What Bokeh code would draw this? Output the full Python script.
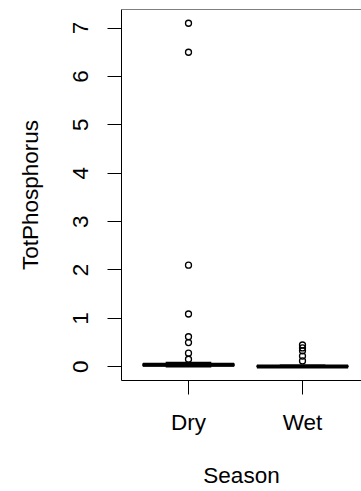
from bokeh.plotting import figure
from bokeh.models import FixedTicker, Range1d, Span, ColumnDataSource
from bokeh.embed import file_html
from bokeh.resources import INLINE

# ---- data ----
seasons = ["Dry", "Wet"]
positions = [1, 2]
box_min = [0.0, 0.0]
box_q1 = [0.02, 0.0]
box_median = [0.04, 0.005]
box_q3 = [0.06, 0.02]
box_max = [0.09, 0.035]
dry_outliers = [7.1, 6.5, 2.1, 1.09, 0.62, 0.5, 0.28, 0.155]
wet_outliers = [0.45, 0.39, 0.33, 0.22, 0.12]
y_ticks = [0, 1, 2, 3, 4, 5, 6, 7]

FONT = "Liberation Sans"
FS = "22.5px"

p = figure(width=361, height=491, output_backend="svg", toolbar_location=None,
           x_range=Range1d(0.4123, 2.5175), y_range=Range1d(-0.284, 7.384),
           min_border_left=121, min_border_top=9, min_border_right=0, min_border_bottom=111)
p.outline_line_color = None
p.xgrid.visible = False
p.ygrid.visible = False
p.background_fill_color = "white"
p.border_fill_color = "white"

# frame top
p.add_layout(Span(location=7.384, dimension="width", line_color="black", line_width=1))

# boxes
bw = 0.4
src = ColumnDataSource(dict(x=positions, lo=box_min, q1=box_q1, med=box_median, q3=box_q3, hi=box_max,
                            left=[x - bw for x in positions], right=[x + bw for x in positions],
                            sl=[x - bw / 2 for x in positions], sr=[x + bw / 2 for x in positions]))
p.segment(x0="x", y0="q3", x1="x", y1="hi", source=src, line_color="black", line_width=1.3, line_dash="4 3")
p.segment(x0="x", y0="q1", x1="x", y1="lo", source=src, line_color="black", line_width=1.3, line_dash="4 3")
p.segment(x0="sl", y0="hi", x1="sr", y1="hi", source=src, line_color="black", line_width=1.3)
p.segment(x0="sl", y0="lo", x1="sr", y1="lo", source=src, line_color="black", line_width=1.3)
p.quad(left="left", right="right", bottom="q1", top="q3", source=src,
       fill_color="white", line_color="black", line_width=1.3)
p.segment(x0="left", y0="med", x1="right", y1="med", source=src, line_color="black", line_width=4)

# outliers
ox = [positions[0]] * len(dry_outliers) + [positions[1]] * len(wet_outliers)
oy = dry_outliers + wet_outliers
p.scatter(ox, oy, marker="circle", size=6, fill_color=None, line_color="black", line_width=1.3)

# axes
ax = p.xaxis[0]
ax.ticker = FixedTicker(ticks=positions)
ax.major_label_overrides = {pos: lab for pos, lab in zip(positions, seasons)}
ax.axis_label = "Season"
ay = p.yaxis[0]
ay.ticker = FixedTicker(ticks=y_ticks)
ay.axis_label = "TotPhosphorus"
ay.major_label_orientation = "vertical"

for a in (ax, ay):
    a.axis_line_color = "black"
    a.axis_line_width = 1
    a.major_tick_line_color = "black"
    a.major_tick_line_width = 1
    a.major_tick_in = 0
    a.major_tick_out = 14
    a.minor_tick_line_color = None
    a.major_label_text_font = FONT
    a.major_label_text_font_size = FS
    a.major_label_text_color = "black"
    a.axis_label_text_font = FONT
    a.axis_label_text_font_size = FS
    a.axis_label_text_font_style = "normal"
    a.axis_label_text_color = "black"

ax.major_label_standoff = 15
ax.axis_label_standoff = 25
ay.major_label_standoff = 19
ay.axis_label_standoff = 28

open("out.html", "w").write(file_html(p, INLINE))
